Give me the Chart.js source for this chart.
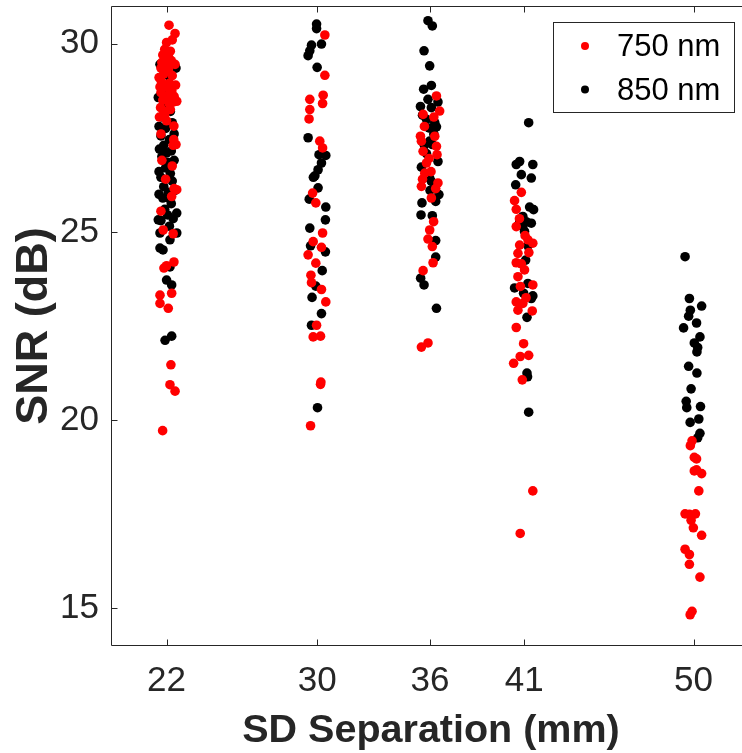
<!DOCTYPE html>
<html><head><meta charset="utf-8">
<script src="https://cdn.jsdelivr.net/npm/chart.js@4.4.0/dist/chart.umd.min.js"></script>
<style>
html,body{margin:0;padding:0;overflow:hidden;background:#fff;width:742px;height:753px}
#wrap{position:absolute;left:0;top:0;width:760px;height:753px}
</style>
</head><body><div id="wrap"><canvas id="c" width="760" height="753"></canvas></div>
<script>
// ---- data ----
const categories = [22, 30, 36, 41, 50];          // SD separation (mm), x tick labels
const yTicks = [15, 20, 25, 30];                   // SNR tick labels
const seriesLabels = ['750 nm', '850 nm'];

// 750 nm points: [jittered x (mm), SNR (dB)]
const nm750_22 = [[22.13,30.49],[22.45,30.27],[22.00,30.03],[22.30,30.10],[21.90,29.85],[22.20,29.80],[21.80,29.70],[22.10,29.65],[21.75,29.50],[22.25,29.55],[21.95,29.55],[22.45,29.45],[21.70,29.35],[22.05,29.40],[22.10,29.30],[21.85,29.20],[22.30,29.15],[21.60,29.10],[21.72,29.00],[22.15,28.95],[22.48,28.90],[21.95,28.85],[21.65,28.85],[22.28,28.75],[21.70,28.70],[22.05,28.62],[22.40,28.60],[21.80,28.50],[22.54,28.47],[22.35,28.45],[22.15,28.40],[21.68,28.30],[22.20,28.25],[21.85,28.20],[21.90,28.10],[21.62,28.05],[22.00,27.95],[22.39,27.81],[21.70,27.60],[22.38,27.45],[22.50,27.32],[22.35,27.30],[21.75,26.90],[22.30,26.75],[21.95,26.40],[22.40,26.15],[22.54,26.12],[22.27,25.94],[21.70,25.55],[21.82,25.05],[22.35,24.95],[22.39,24.20],[22.00,24.10],[21.86,24.04],[22.27,23.37],[21.65,23.32],[21.65,23.10],[22.09,22.97],[22.23,21.47],[22.18,20.94],[22.45,20.77],[21.79,19.72]];
const nm750_30 = [[30.41,30.23],[30.41,29.16],[30.32,28.63],[29.61,28.52],[30.29,28.41],[29.61,28.25],[29.57,28.00],[30.14,27.41],[30.29,27.23],[29.76,26.03],[29.93,25.77],[30.29,24.97],[29.79,24.74],[30.23,24.59],[29.52,24.39],[29.93,24.17],[29.67,23.85],[29.70,23.65],[30.23,23.47],[30.46,23.14],[29.97,22.52],[29.79,22.21],[30.18,22.23],[30.20,21.01],[30.18,20.95],[29.65,19.85]];
const nm750_36 = [[36.34,28.61],[36.51,28.21],[35.63,28.12],[36.20,28.05],[35.70,27.80],[35.49,27.54],[36.25,27.54],[35.54,27.41],[36.34,27.27],[35.63,27.14],[36.37,27.05],[35.95,26.95],[35.81,26.83],[36.05,26.60],[35.72,26.56],[35.60,26.40],[36.42,26.30],[35.54,26.21],[36.30,26.15],[36.07,25.90],[36.19,25.27],[35.98,25.05],[35.89,24.81],[36.12,24.61],[36.16,24.18],[35.63,23.97],[35.89,22.05],[35.54,21.94]];
const nm750_41 = [[40.85,26.05],[40.49,25.83],[40.58,25.60],[40.75,25.35],[40.58,25.14],[41.05,24.90],[41.20,24.79],[41.46,24.70],[40.76,24.65],[41.25,24.45],[40.67,24.43],[40.58,24.18],[40.85,24.15],[41.02,23.99],[40.67,23.81],[41.46,23.59],[40.80,23.55],[41.10,23.25],[40.58,23.14],[40.93,23.10],[40.67,22.92],[41.43,22.90],[40.58,22.46],[40.97,22.03],[41.24,21.72],[40.79,21.69],[40.44,21.51],[40.90,21.07],[41.46,18.12],[40.79,16.99]];
const nm750_50 = [[49.92,19.45],[49.83,19.32],[50.04,19.01],[50.16,18.97],[50.16,18.68],[50.04,18.65],[50.43,18.58],[50.28,18.12],[49.55,17.51],[49.78,17.50],[50.10,17.51],[49.87,17.34],[49.99,17.14],[50.43,16.94],[49.55,16.57],[49.78,16.43],[49.78,16.17],[50.34,15.83],[49.92,14.92],[49.82,14.83]];

// 850 nm points: [jittered x (mm), SNR (dB)]
const nm850_22 = [[21.65,29.45],[22.50,29.35],[22.14,29.13],[21.85,28.85],[21.74,28.83],[22.10,28.70],[21.56,28.57],[22.05,28.45],[21.90,28.30],[22.20,28.20],[21.75,28.05],[22.30,27.90],[21.60,27.80],[21.95,27.75],[22.40,27.60],[21.70,27.55],[22.15,27.45],[21.85,27.30],[21.62,27.20],[22.25,27.15],[22.00,27.10],[21.75,27.00],[22.40,26.90],[22.05,26.85],[21.95,26.70],[21.60,26.60],[22.20,26.55],[21.70,26.45],[22.30,26.35],[21.85,26.20],[22.45,26.10],[22.10,26.05],[21.60,26.00],[21.80,25.90],[22.10,25.90],[22.25,25.75],[21.90,25.60],[22.54,25.50],[22.05,25.45],[22.35,25.35],[21.56,25.32],[21.70,25.30],[22.15,25.15],[21.65,24.97],[22.54,24.97],[22.18,24.79],[21.65,24.57],[21.81,24.52],[22.18,24.07],[22.00,23.72],[22.27,23.59],[22.27,22.23],[21.92,22.12]];
const nm850_30 = [[29.97,30.52],[29.97,30.40],[30.23,29.99],[29.70,29.96],[29.61,29.81],[29.52,29.68],[30.00,29.37],[29.52,27.50],[30.10,27.05],[30.46,27.03],[30.23,26.83],[30.05,26.65],[29.88,26.49],[29.80,26.45],[30.05,26.17],[29.58,25.87],[30.46,25.66],[30.44,25.32],[29.61,25.10],[29.65,24.63],[30.44,24.47],[30.27,23.97],[29.93,23.56],[29.73,23.26],[30.23,22.83],[29.70,22.52],[30.02,20.33]];
const nm850_36 = [[35.89,30.61],[36.12,30.47],[35.68,29.81],[35.98,29.41],[36.07,28.89],[35.66,28.79],[35.89,28.52],[36.42,28.45],[35.49,28.33],[36.07,28.30],[35.60,28.10],[35.81,27.99],[36.25,27.90],[36.34,27.79],[35.94,27.76],[36.20,27.60],[35.98,27.41],[36.12,27.32],[35.70,27.30],[35.81,27.08],[36.42,26.87],[35.54,26.72],[35.98,26.43],[36.07,26.34],[36.00,26.10],[36.47,25.99],[36.30,25.81],[35.57,25.77],[35.52,25.45],[36.12,25.43],[36.30,24.77],[36.30,24.33],[35.50,23.77],[35.68,23.59],[36.34,22.97]];
const nm850_41 = [[41.24,27.90],[40.76,26.87],[40.58,26.79],[41.46,26.79],[40.85,26.52],[41.38,26.43],[40.55,26.25],[41.29,25.66],[41.50,25.59],[40.93,25.41],[41.11,25.27],[40.76,25.25],[41.38,25.23],[40.93,25.14],[41.02,25.01],[41.20,24.63],[41.08,24.25],[41.20,23.63],[40.49,23.51],[40.97,23.37],[41.46,23.30],[41.38,23.23],[41.15,22.73],[41.15,21.25],[41.18,21.15],[41.24,20.21]];
const nm850_50 = [[49.55,24.34],[49.78,23.23],[50.43,23.03],[49.83,22.92],[49.74,22.76],[50.16,22.58],[49.47,22.45],[50.34,22.21],[50.04,22.05],[50.22,21.93],[50.18,21.81],[49.74,21.43],[50.18,21.25],[49.87,20.83],[49.61,20.50],[50.37,20.36],[49.64,20.33],[50.28,20.03],[49.82,19.94],[50.34,19.65],[50.22,19.53]];

const series750 = [nm750_22, nm750_30, nm750_36, nm750_41, nm750_50];
const series850 = [nm850_22, nm850_30, nm850_36, nm850_41, nm850_50];
const toPoints = groups => groups.flat().map(p => ({x: p[0], y: p[1]}));

const FONT = '"Liberation Sans", Arial, Helvetica, sans-serif';
const AXIS = '#262626';

const framePlugin = {
  id: 'frame',
  afterDatasetsDraw(chart) {
    const {ctx, chartArea: a, scales: {x, y}} = chart;
    ctx.save();
    ctx.strokeStyle = AXIS; ctx.lineWidth = 1;
    const L = Math.round(a.left) - 0.5, T = Math.round(a.top) + 0.5, B = Math.round(a.bottom) - 0.5, R = Math.round(a.right) + 0.5;
    ctx.beginPath();
    ctx.moveTo(L, T); ctx.lineTo(R, T);
    ctx.moveTo(L, T); ctx.lineTo(L, B);
    ctx.moveTo(L, B); ctx.lineTo(R, B);
    const tl = 6;
    categories.forEach(v => {
      const px = Math.round(x.getPixelForValue(v)) + 0.5;
      ctx.moveTo(px, B); ctx.lineTo(px, B - tl);
      ctx.moveTo(px, T); ctx.lineTo(px, T + tl);
    });
    yTicks.forEach(v => {
      const py = Math.round(y.getPixelForValue(v)) + 0.5;
      ctx.moveTo(L, py); ctx.lineTo(L + tl, py);
    });
    ctx.stroke();
    ctx.restore();
  },
  afterDraw(chart) {
    const {ctx} = chart;
    ctx.save();
    const bx = 553.5, by = 22.5, bw = 181, bh = 90;
    ctx.fillStyle = '#fff'; ctx.fillRect(bx, by, bw, bh);
    ctx.strokeStyle = AXIS; ctx.lineWidth = 1; ctx.strokeRect(bx, by, bw, bh);
    chart.data.datasets.forEach((ds, i) => {
      const cy = 46 + i * 43.5;
      ctx.beginPath(); ctx.fillStyle = ds.backgroundColor;
      ctx.arc(585, cy, 4, 0, Math.PI * 2); ctx.fill();
      ctx.fillStyle = '#000'; ctx.font = '31px ' + FONT;
      ctx.textAlign = 'left'; ctx.textBaseline = 'middle';
      ctx.fillText(ds.label, 617, cy + 1.5);
    });
    ctx.restore();
  }
};

new Chart(document.getElementById('c'), {
  type: 'scatter',
  data: {
    datasets: [
      {label: seriesLabels[0], data: toPoints(series750), backgroundColor: '#ff0000', pointRadius: 4.8, pointBorderWidth: 0, borderWidth: 0},
      {label: seriesLabels[1], data: toPoints(series850), backgroundColor: '#000000', pointRadius: 4.8, pointBorderWidth: 0, borderWidth: 0}
    ]
  },
  options: {
    responsive: false, animation: false, devicePixelRatio: 1,
    layout: {padding: {left: 0, top: 6, right: 10, bottom: 0}},
    plugins: {legend: {display: false}, tooltip: {enabled: false}},
    scales: {
      x: {
        type: 'linear', min: 19.1, max: 53,
        afterBuildTicks: s => { s.ticks = categories.map(v => ({value: v})); },
        afterFit: s => { s.height = 107; s.paddingLeft = 0; s.paddingRight = 0; },
        grid: {display: false, drawTicks: false}, border: {display: false},
        ticks: {font: {family: FONT, size: 35}, color: AXIS, padding: 14, maxRotation: 0, autoSkip: false},
        title: {display: true, text: 'SD Separation (mm)', font: {family: FONT, size: 39.5, weight: 'bold'}, color: AXIS, padding: {top: 0, bottom: -2}}
      },
      y: {
        type: 'linear', min: 14, max: 31,
        afterBuildTicks: s => { s.ticks = yTicks.map(v => ({value: v})); },
        afterFit: s => { s.width = 112; s.paddingTop = 0; s.paddingBottom = 0; },
        grid: {display: false, drawTicks: false}, border: {display: false},
        ticks: {font: {family: FONT, size: 35}, color: AXIS, padding: 13, autoSkip: false},
        title: {display: true, text: 'SNR (dB)', font: {family: FONT, size: 45, weight: 'bold'}, color: AXIS, padding: {top: 8, bottom: 0}}
      }
    }
  },
  plugins: [framePlugin]
});
</script>
</body></html>
